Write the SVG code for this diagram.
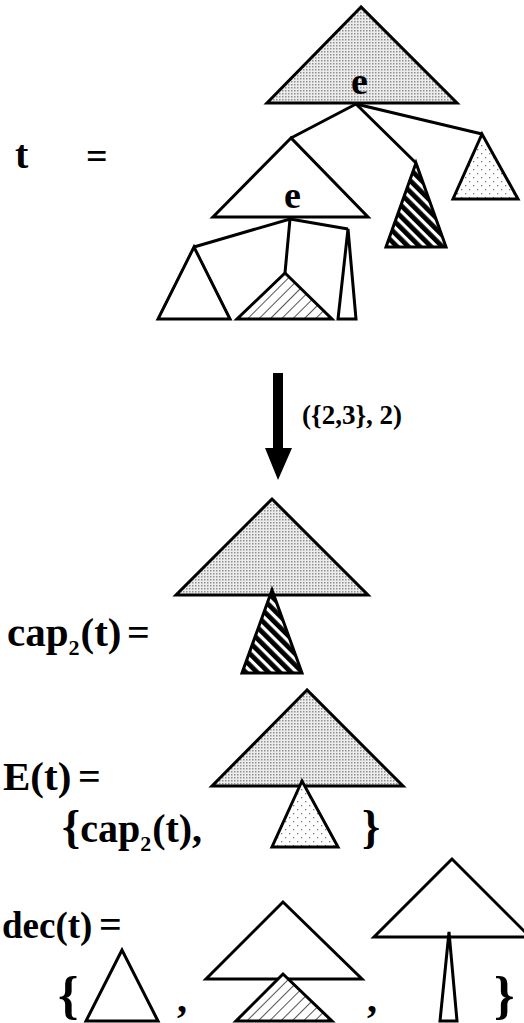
<svg xmlns="http://www.w3.org/2000/svg" width="524" height="1023" viewBox="0 0 524 1023">
<style>
.lbl{font-family:"Liberation Serif","Times New Roman",serif;font-weight:bold;fill:#000}
.tri{stroke:#000;stroke-width:3;stroke-linejoin:miter}
.white{fill:#fff}
.gray{fill:url(#grayDots)}
.dark{fill:url(#darkHatch)}
.light{fill:url(#lightHatch)}
.dots{fill:url(#sparseDots)}
.edge{stroke:#000;stroke-width:3;fill:none}
</style>
<defs>
<pattern id="grayDots" width="3" height="3" patternUnits="userSpaceOnUse">
<rect width="3" height="3" fill="#ececec"/>
<rect width="1.5" height="1.5" fill="#909090"/>
</pattern>
<pattern id="darkHatch" width="8" height="8" patternUnits="userSpaceOnUse" patternTransform="rotate(45)">
<rect width="8" height="8" fill="#000"/>
<rect x="0" y="0" width="8" height="3.2" fill="#fff"/>
</pattern>
<pattern id="lightHatch" width="8" height="8" patternUnits="userSpaceOnUse" patternTransform="rotate(-45)">
<rect width="8" height="8" fill="#fff"/>
<rect x="0" y="0" width="8" height="1" fill="#555"/>
</pattern>
<pattern id="sparseDots" width="8" height="8" patternUnits="userSpaceOnUse">
<rect width="8" height="8" fill="#fff"/>
<rect x="1" y="1" width="1.3" height="1.3" fill="#777"/>
<rect x="5" y="5" width="1.3" height="1.3" fill="#777"/>
</pattern>
</defs>

<g id="connectors">
<polyline class="edge" points="291,138 356,104 416,163"/>
<line class="edge" x1="356" y1="104" x2="482" y2="134"/>
<polyline class="edge" points="194,247 290,219 285,273"/>
<line class="edge" x1="290" y1="219" x2="348" y2="229"/>
</g>

<g id="tree-t">
<polygon id="t-root" class="tri gray" points="361,7 267,103 457,103"/>
<polygon id="t-left" class="tri white" points="291,138 213,217 368,217"/>
<polygon id="t-darkhatch" class="tri dark" points="416,163 386,247 446,247"/>
<polygon id="t-dots" class="tri dots" points="482,134 453,199 518,199"/>
<polygon id="t-small" class="tri white" points="194,247 158,319 230,319"/>
<polygon id="t-lighthatch" class="tri light" points="285,273 237,319 332,319"/>
<polygon id="t-thin" class="tri white" points="348,229 338,319 356,319"/>
<text class="lbl" x="351" y="94" font-size="38">e</text>
<text class="lbl" x="284" y="208" font-size="38">e</text>
</g>
<g id="label-t">
<text class="lbl" x="15" y="168" font-size="40">t</text>
<text class="lbl" x="86" y="169" font-size="38">=</text>
</g>

<g id="arrow">
<rect x="273" y="373" width="10" height="76" fill="#000"/>
<polygon points="265,448 292,448 278,480" fill="#000"/>
<text class="lbl" x="302" y="424" font-size="27">({2,3}, 2)</text>
</g>

<g id="cap">
<polygon class="tri gray" points="272,499 176,595 368,595"/>
<polygon class="tri dark" points="272,590 242,673 302,673"/>
<text class="lbl" x="7" y="646" font-size="41">cap<tspan font-size="22" dy="9">2</tspan><tspan dy="-9" dx="1">(t)</tspan></text>
<text class="lbl" x="127" y="646" font-size="40">=</text>
</g>

<g id="E">
<polygon class="tri gray" points="307,690 212,786 403,786"/>
<polygon class="tri dots" points="302,781 272,847 338,847"/>
<text class="lbl" x="3" y="790" font-size="41">E(t)</text>
<text class="lbl" x="78" y="790" font-size="40">=</text>
<text class="lbl" x="62" y="842" font-size="40"><tspan font-size="46">{</tspan>cap<tspan font-size="22" dy="9">2</tspan><tspan dy="-9" dx="1">(t)</tspan>,</text>
<text class="lbl" x="362" y="842" font-size="46">}</text>
</g>

<g id="dec">
<text class="lbl" x="2" y="938" font-size="37">dec(t)</text>
<text class="lbl" x="99" y="938" font-size="40">=</text>
<text class="lbl" x="58" y="1013" font-size="52">{</text>
<polygon class="tri white" points="122,950 86,1021 158,1021"/>
<text class="lbl" x="177" y="1012" font-size="40">,</text>
<polygon class="tri white" points="283,902 206,979 362,979"/>
<polygon class="tri light" points="283,974 236,1021 332,1021"/>
<text class="lbl" x="367" y="1012" font-size="40">,</text>
<polygon class="tri white" points="452,859 374,937 530,937"/>
<polygon class="tri white" points="449,932 440,1021 457,1021"/>
<text class="lbl" x="494" y="1013" font-size="52">}</text>
</g>
</svg>
